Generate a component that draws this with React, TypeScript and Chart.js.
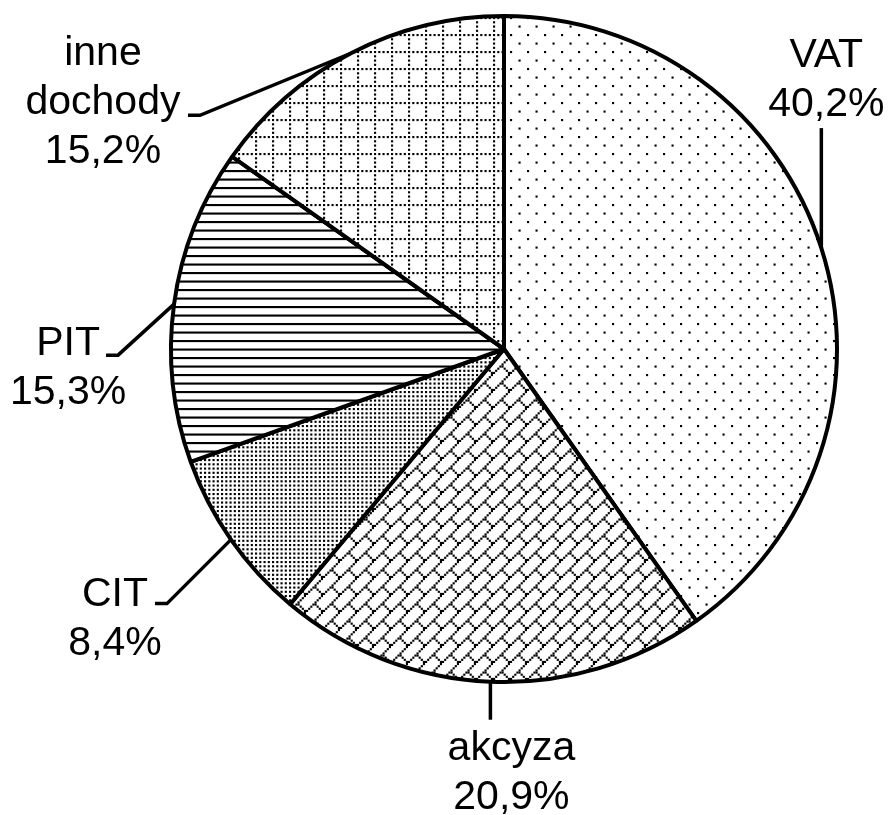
import { useEffect, useRef } from 'react';
import { Chart, registerables } from 'chart.js';

Chart.register(...registerables);

// ---- data ----
const categories = ['VAT', 'akcyza', 'CIT', 'PIT', 'inne dochody'];
const shares = [40.2, 20.9, 8.4, 15.3, 15.2];

// ---- fill patterns (8x8 bitmaps, '#' = black) ----
const patternVat = ['#.......', '........', '........', '........', '....#...', '........', '........', '........'];
const patternAkcyza = ['.......#', '......#.', '.....#..', '....#...', '...##...', '..#..#..', '.#....#.', '#......#'];
const patternCit = ['#.#.#.#.', '........', '#.#.#.#.', '........', '#.#.#.#.', '........', '#.#.#.#.', '........'];
const patternPit = ['########', '........', '........', '........', '########', '........', '........', '........'];
const patternInne = ['#.#.#.#.', '........', '#.......', '........', '#.......', '........', '#.......', '........'];
const slicePatterns = [patternVat, patternAkcyza, patternCit, patternPit, patternInne];

// ---- leader / label layout (offsets from slice-mid point on the rim) ----
const leaderStyles: { path: number[][]; text: number[] }[] = [
  { path: [[0, -120]], text: [5, -61] },
  { path: [[0, 38]], text: [21, 40] },
  { path: [[-64, 64], [-12, 0]], text: [-40, 2] },
  { path: [[-56, 51], [-12, 0]], text: [-38, 0] },
  { path: [[-151, 62], [-12, 0]], text: [-85, -50] },
];

const FONT = '41px "Liberation Sans", Arial, Helvetica, sans-serif';
const LINE_H = 49;

function formatPct(v: number): string {
  return v.toFixed(1).replace('.', ',') + '%';
}

function makePattern(rows: string[]): CanvasPattern | string {
  const size = 17;
  const s = size / 8;
  const c = document.createElement('canvas');
  c.width = size;
  c.height = size;
  const g = c.getContext('2d');
  if (!g) return '#fff';
  g.fillStyle = '#fff';
  g.fillRect(0, 0, size, size);
  g.fillStyle = '#000';
  rows.forEach((row, y) => {
    if (row === '########') {
      g.fillRect(0, y * s, size, s);
      return;
    }
    for (let x = 0; x < 8; x++) {
      if (row[x] === '#') g.fillRect(x * s, y * s, s, s);
    }
  });
  return g.createPattern(c, 'repeat') || '#fff';
}

const leaderLabelPlugin = {
  id: 'leaderLabels',
  afterDatasetsDraw(chart: any) {
    const ctx: CanvasRenderingContext2D = chart.ctx;
    const meta = chart.getDatasetMeta(0);
    ctx.save();
    meta.data.forEach((arc: any, i: number) => {
      const st = leaderStyles[i];
      if (!st) return;
      const { x, y, startAngle, endAngle, outerRadius } = arc.getProps(
        ['x', 'y', 'startAngle', 'endAngle', 'outerRadius'],
        true
      );
      const mid = (startAngle + endAngle) / 2;
      let px = x + Math.cos(mid) * outerRadius;
      let py = y + Math.sin(mid) * outerRadius;
      ctx.beginPath();
      ctx.moveTo(px, py);
      for (const [dx, dy] of st.path) {
        px += dx;
        py += dy;
        ctx.lineTo(px, py);
      }
      ctx.lineWidth = 3.5;
      ctx.strokeStyle = '#000';
      ctx.lineJoin = 'miter';
      ctx.lineCap = 'butt';
      ctx.stroke();

      const lines = [...categories[i].split(' '), formatPct(shares[i])];
      ctx.font = FONT;
      ctx.fillStyle = '#000';
      ctx.textAlign = 'center';
      ctx.textBaseline = 'alphabetic';
      const tx = px + st.text[0];
      const ty = py + st.text[1];
      lines.forEach((ln, k) => ctx.fillText(ln, tx, ty + k * LINE_H));
    });
    ctx.restore();
  },
};

export default function App() {
  const canvasRef = useRef<HTMLCanvasElement | null>(null);

  useEffect(() => {
    const canvas = canvasRef.current;
    if (!canvas) return;
    const chart = new Chart(canvas, {
      type: 'pie',
      data: {
        labels: categories,
        datasets: [
          {
            data: shares,
            backgroundColor: slicePatterns.map(makePattern) as any,
            borderColor: '#000',
            borderWidth: 4,
            hoverOffset: 0,
          },
        ],
      },
      options: {
        animation: false,
        responsive: false,
        radius: 333,
        layout: { padding: { left: 171, right: 55, top: 16, bottom: 133 } },
        plugins: {
          legend: { display: false },
          tooltip: { enabled: false },
        },
        events: [],
      } as any,
      plugins: [leaderLabelPlugin],
    });
    return () => chart.destroy();
  }, []);

  return (
    <div style={{ position: 'absolute', left: 0, top: 0, width: 892, height: 815, background: '#fff' }}>
      <canvas ref={canvasRef} width={892} height={815} style={{ display: 'block' }} />
    </div>
  );
}
